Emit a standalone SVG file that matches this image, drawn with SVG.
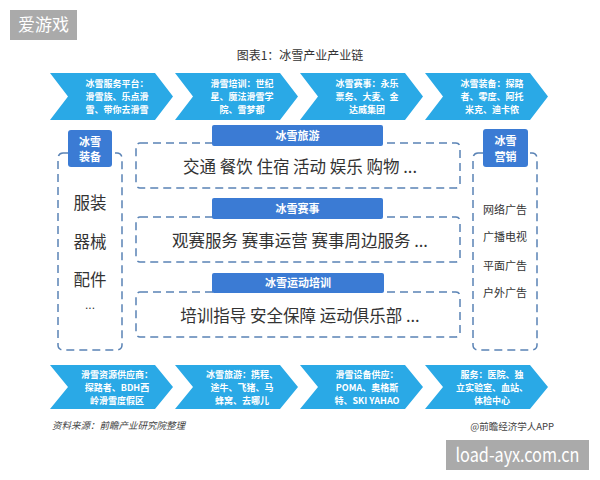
<svg xmlns="http://www.w3.org/2000/svg" width="600" height="480" viewBox="0 0 600 480">
<defs>
<style>
.chev{fill:#2aa9e6}
.ct{fill:#fff;font-family:"Noto Sans CJK SC","Liberation Sans",sans-serif;font-size:9px;font-weight:bold;text-anchor:middle}
.dash{fill:none;stroke:#5a83b5;stroke-width:1.5;stroke-dasharray:8 5}
.lbl{fill:#3b7bd4}
.lt{fill:#fff;font-family:"Noto Sans CJK SC","Liberation Sans",sans-serif;font-size:11px;font-weight:bold;text-anchor:middle}
.mt{fill:#333;font-family:"Noto Sans CJK SC","Liberation Sans",sans-serif;font-size:16.5px;text-anchor:middle}
.st{fill:#333;font-family:"Noto Sans CJK SC","Liberation Sans",sans-serif;font-size:11px;text-anchor:middle}
.ft{fill:#444;font-family:"Noto Sans CJK SC","Liberation Sans",sans-serif;font-size:9.5px}
.wm{fill:#aaaaaa}
.wt{fill:#fff;font-family:"Noto Sans CJK SC","Liberation Sans",sans-serif;text-anchor:middle}
</style>
<polygon id="chv" points="0,0 105,0 123,23.5 105,47 0,47 18,23.5"/>
<polygon id="chb" points="0,0 105,0 123,22 105,44 0,44 18,22"/>
</defs>
<rect width="600" height="480" fill="#fff"/>
<g id="badge"><rect class="wm" x="10" y="10" width="67" height="30"/><text class="wt" x="43.5" y="31" font-size="17">爱游戏</text></g>
<text x="300" y="60" font-family="Noto Sans CJK SC,sans-serif" font-size="12" fill="#333" text-anchor="middle">图表1：冰雪产业产业链</text>

<g id="top1"><use href="#chv" class="chev" x="50" y="73"/><text class="ct" x="117" y="87">冰雪服务平台：</text><text class="ct" x="117" y="100">滑雪族、乐点滑</text><text class="ct" x="117" y="113">雪、带你去滑雪</text></g>
<g id="top2"><use href="#chv" class="chev" x="175" y="73"/><text class="ct" x="242" y="87">滑雪培训：世纪</text><text class="ct" x="242" y="100">星、魔法滑雪学</text><text class="ct" x="242" y="113">院、雪梦都</text></g>
<g id="top3"><use href="#chv" class="chev" x="300" y="73"/><text class="ct" x="367" y="87">冰雪赛事：永乐</text><text class="ct" x="367" y="100">票务、大麦、金</text><text class="ct" x="367" y="113">达威集团</text></g>
<g id="top4"><use href="#chv" class="chev" x="425" y="73"/><text class="ct" x="492" y="87">冰雪装备：探路</text><text class="ct" x="492" y="100">者、零度、阿托</text><text class="ct" x="492" y="113">米克、迪卡侬</text></g>

<g id="equip"><rect class="dash" x="58" y="153" width="64" height="197" rx="5"/><rect class="lbl" x="68" y="130" width="44" height="37" rx="3"/><text class="lt" x="90" y="146">冰雪</text><text class="lt" x="90" y="161">装备</text>
<text class="mt" x="90" y="209">服装</text><text class="mt" x="90" y="248">器械</text><text class="mt" x="90" y="286">配件</text><text x="90" y="309" font-family="Liberation Sans,sans-serif" font-size="12" fill="#333" text-anchor="middle">...</text></g>

<g id="market"><rect class="dash" x="473" y="153" width="64" height="197" rx="5"/><rect class="lbl" x="483" y="129" width="45" height="38" rx="3"/><text class="lt" x="505.5" y="145">冰雪</text><text class="lt" x="505.5" y="161">营销</text>
<text class="st" x="505" y="214">网络广告</text><text class="st" x="505" y="241">广播电视</text><text class="st" x="505" y="270">平面广告</text><text class="st" x="505" y="297">户外广告</text></g>

<g id="tour"><rect class="dash" x="136" y="143" width="324" height="45" rx="4"/><rect class="lbl" x="212" y="125" width="171" height="21" rx="2"/><text class="lt" x="297.5" y="140">冰雪旅游</text><text class="mt" x="300" y="173">交通 餐饮 住宿 活动 娱乐 购物 ...</text></g>
<g id="event"><rect class="dash" x="136" y="217" width="324" height="45" rx="4"/><rect class="lbl" x="212" y="198" width="171" height="21" rx="2"/><text class="lt" x="297.5" y="213">冰雪赛事</text><text class="mt" x="300" y="247">观赛服务 赛事运营 赛事周边服务 ...</text></g>
<g id="train"><rect class="dash" x="136" y="292" width="324" height="45" rx="4"/><rect class="lbl" x="212" y="273" width="172" height="20" rx="2"/><text class="lt" x="298" y="287">冰雪运动培训</text><text class="mt" x="300" y="322">培训指导 安全保障 运动俱乐部 ...</text></g>

<g id="bot1"><use href="#chb" class="chev" x="50" y="365"/><text class="ct" x="117" y="378">滑雪资源供应商：</text><text class="ct" x="117" y="391">探路者、BDH西</text><text class="ct" x="117" y="404">岭滑雪度假区</text></g>
<g id="bot2"><use href="#chb" class="chev" x="175" y="365"/><text class="ct" x="242" y="378">冰雪旅游：携程、</text><text class="ct" x="242" y="391">途牛、飞猪、马</text><text class="ct" x="242" y="404">蜂窝、去哪儿</text></g>
<g id="bot3"><use href="#chb" class="chev" x="300" y="365"/><text class="ct" x="367" y="378">滑雪设备供应：</text><text class="ct" x="367" y="391">POMA、奥格斯</text><text class="ct" x="367" y="404">特、SKI YAHAO</text></g>
<g id="bot4"><use href="#chb" class="chev" x="425" y="365"/><text class="ct" x="492" y="378">服务：医院、独</text><text class="ct" x="492" y="391">立实验室、血站、</text><text class="ct" x="492" y="404">体检中心</text></g>

<g id="connectors"></g>

<text class="ft" x="52" y="429" font-style="italic">资料来源：前瞻产业研究院整理</text>
<text class="ft" x="554" y="430" text-anchor="end">@前瞻经济学人APP</text>
<g id="wm2"><rect class="wm" x="446" y="440" width="143" height="30"/><text class="wt" x="517.5" y="462" font-size="19" font-family="Liberation Sans,sans-serif" textLength="124" lengthAdjust="spacingAndGlyphs">load-ayx.com.cn</text></g>
</svg>
